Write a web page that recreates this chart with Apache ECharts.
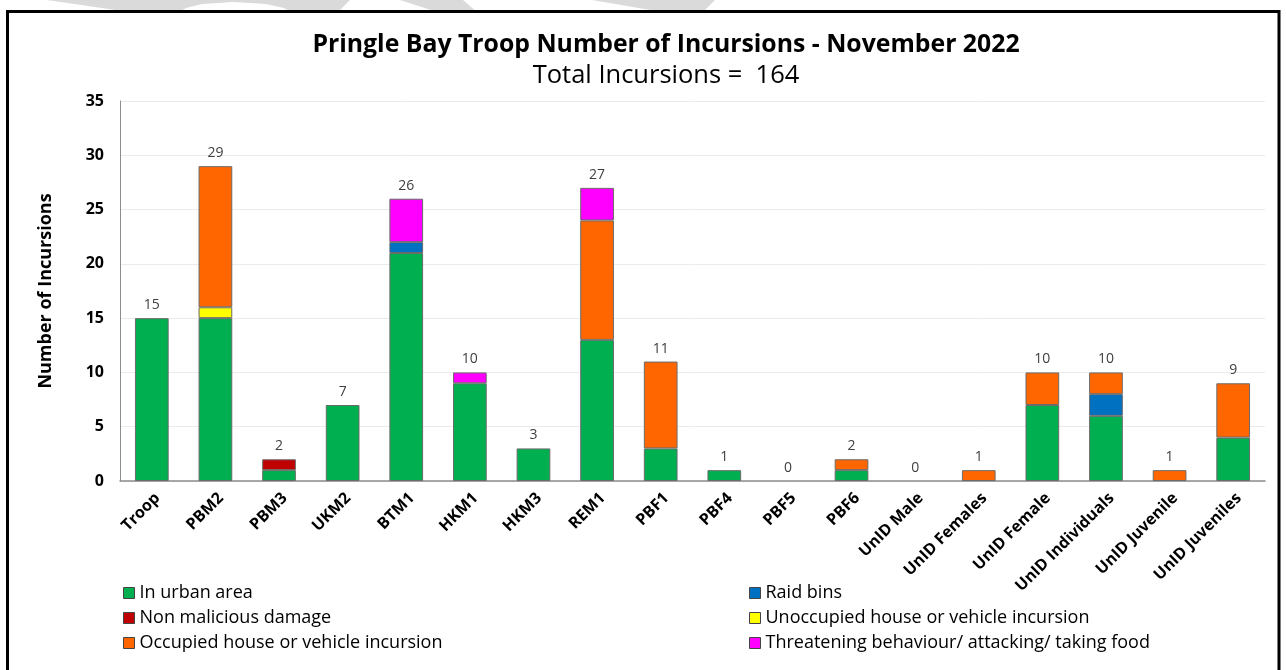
<!DOCTYPE html>
<html><head><meta charset="utf-8">
<script src="https://cdn.jsdelivr.net/npm/echarts@6/dist/echarts.min.js"></script>
<style>html,body{margin:0;padding:0;background:#fff}#c{width:1286px;height:670px}</style>
</head><body><div id="c"></div>
<script>
const categories = ['Troop','PBM2','PBM3','UKM2','BTM1','HKM1','HKM3','REM1','PBF1','PBF4','PBF5','PBF6','UnID Male','UnID Females','UnID Female','UnID Individuals','UnID Juvenile','UnID Juveniles'];
const urban       = [15,15,1,7,21,9,3,13,3,1,0,1,0,0,7,6,0,4];
const nonMalicious= [0,0,1,0,0,0,0,0,0,0,0,0,0,0,0,0,0,0];
const raidBins    = [0,0,0,0,1,0,0,0,0,0,0,0,0,0,0,2,0,0];
const unoccupied  = [0,1,0,0,0,0,0,0,0,0,0,0,0,0,0,0,0,0];
const occupied    = [0,13,0,0,0,0,0,11,8,0,0,1,0,1,3,2,1,5];
const threatening = [0,0,0,0,4,1,0,3,0,0,0,0,0,0,0,0,0,0];
const yTicks = [0,5,10,15,20,25,30,35];

const seriesDefs = [
  ['In urban area', urban, '#00b050'],
  ['Non malicious damage', nonMalicious, '#c00000'],
  ['Raid bins', raidBins, '#0070c0'],
  ['Unoccupied house or vehicle incursion', unoccupied, '#ffff00'],
  ['Occupied house or vehicle incursion', occupied, '#ff6600'],
  ['Threatening behaviour/ attacking/ taking food', threatening, '#ff00ff']
];
const totals = categories.map((_, i) => seriesDefs.reduce((s, d) => s + d[1][i], 0));

const font = '"Open Sans", "Noto Sans", sans-serif';
const series = seriesDefs.map(([name, data, color]) => ({
  name, type: 'bar', stack: 'all', barWidth: '53%',
  data: data.map(v => v === 0 ? null : v),
  itemStyle: { color, borderColor: '#6b6b6b', borderWidth: 1 }
}));
series.push({
  name: 'total', type: 'bar', stack: 'all', barWidth: '53%',
  data: totals.map(() => 0),
  itemStyle: { color: 'transparent' },
  label: { show: true, position: 'top', distance: 6, formatter: p => totals[p.dataIndex],
    fontFamily: font, fontSize: 14, color: '#404040' }
});

const wm = '#dadada';
const chart = echarts.init(document.getElementById('c'));
chart.setOption({
  animation: false,
  backgroundColor: '#fff',
  title: [
    { text: 'Pringle Bay Troop Number of Incursions - November 2022', left: 661, textAlign: 'center', top: 27,
      textStyle: { fontFamily: font, fontWeight: 'bold', fontSize: 24.8, color: '#000' } },
    { text: 'Total Incursions =  ' + totals.reduce((a, b) => a + b, 0), left: 661, textAlign: 'center', top: 58,
      textStyle: { fontFamily: font, fontWeight: 'normal', fontSize: 25.5, color: '#000' } }
  ],
  graphic: [
    { type: 'polygon', silent: true, z: -1, shape: { points: [[47,0],[350,0],[337,13],[292,13],[284,8],[266,4],[233,2],[202,4],[186,8],[178,13],[136,13]] }, style: { fill: wm } },
    { type: 'polygon', silent: true, z: -1, shape: { points: [[400,0],[463,0],[478,13],[440,13]] }, style: { fill: wm } },
    { type: 'polygon', silent: true, z: -1, shape: { points: [[592,0],[715,0],[702,13],[668,13]] }, style: { fill: wm } },
    { type: 'rect', silent: true, z: 100, shape: { x: 7.5, y: 11.5, width: 1271.5, height: 700 }, style: { fill: null, stroke: '#000', lineWidth: 3 } }
  ],
  legend: [
    { data: ['In urban area','Non malicious damage','Occupied house or vehicle incursion'],
      orient: 'vertical', left: 118, top: 579, itemGap: 7, itemWidth: 11, itemHeight: 11, icon: 'rect',
      itemStyle: { borderColor: '#444', borderWidth: 1 },
      textStyle: { fontFamily: font, fontSize: 18, color: '#000' } },
    { data: ['Raid bins','Unoccupied house or vehicle incursion','Threatening behaviour/ attacking/ taking food'],
      orient: 'vertical', left: 744, top: 579, itemGap: 7, itemWidth: 11, itemHeight: 11, icon: 'rect',
      itemStyle: { borderColor: '#444', borderWidth: 1 },
      textStyle: { fontFamily: font, fontSize: 18, color: '#000' } }
  ],
  grid: { left: 120, right: 21, top: 101, bottom: 189 },
  xAxis: {
    type: 'category', data: categories,
    axisLine: { lineStyle: { color: '#8c8c8c', width: 1.5 } },
    axisTick: { show: false },
    axisLabel: { rotate: 45, interval: 0, margin: 9, verticalAlign: 'top', fontFamily: font, fontWeight: 'bold', fontSize: 16, color: '#000' }
  },
  yAxis: {
    type: 'value', min: yTicks[0], max: yTicks[yTicks.length-1], interval: yTicks[1]-yTicks[0],
    name: 'Number of Incursions', nameLocation: 'middle', nameGap: 65, nameRotate: 90,
    nameTextStyle: { fontFamily: font, fontWeight: 'bold', fontSize: 18, color: '#000' },
    axisLine: { show: true, lineStyle: { color: '#8c8c8c' } },
    axisTick: { show: false },
    axisLabel: { margin: 16, fontFamily: font, fontWeight: 'bold', fontSize: 16, color: '#000' },
    splitLine: { lineStyle: { color: '#ebebeb' } }
  },
  series
});
</script></body></html>
